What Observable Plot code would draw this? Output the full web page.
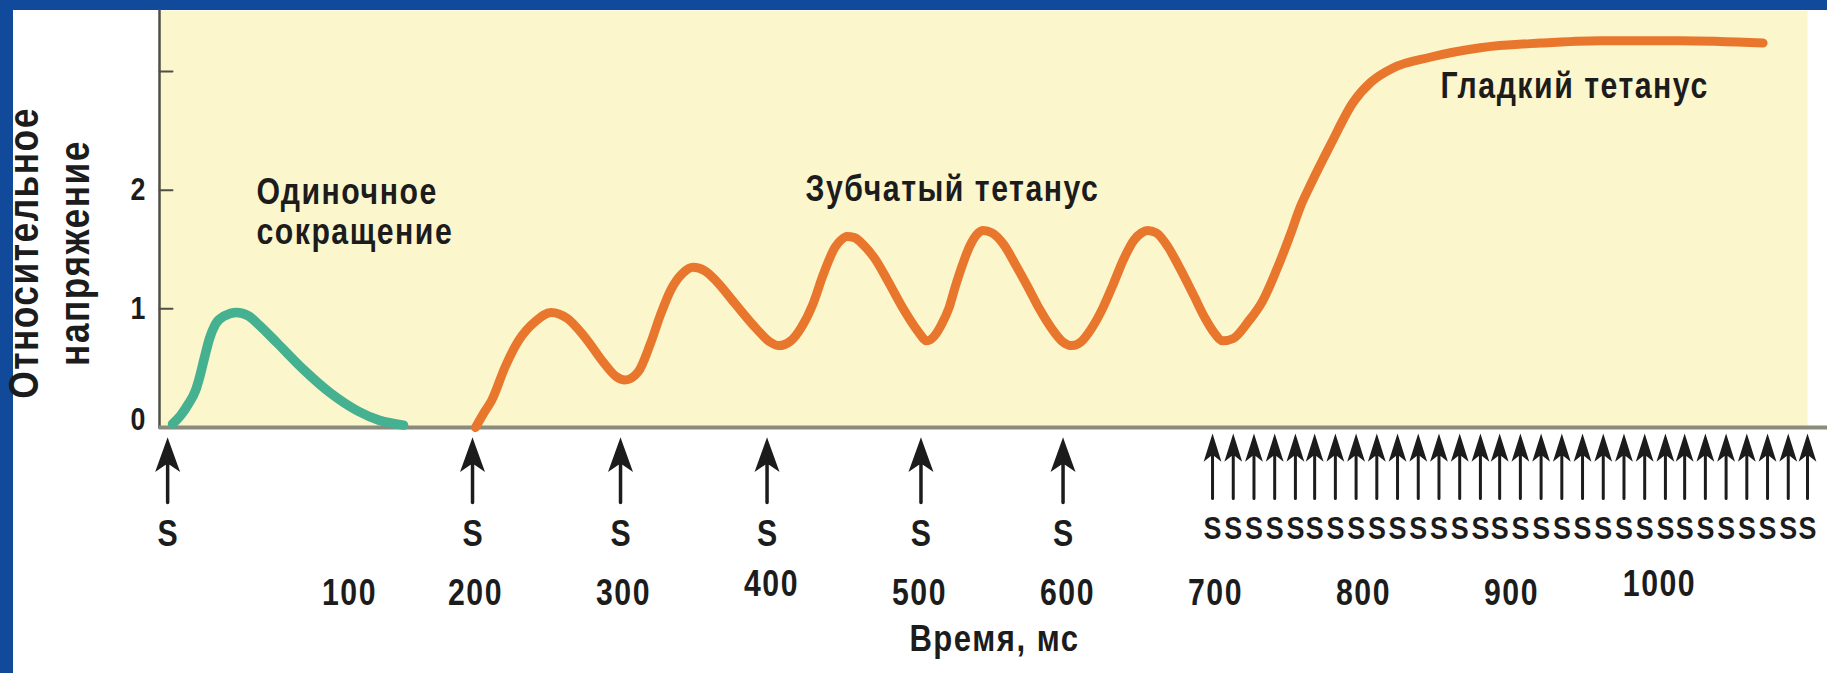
<!DOCTYPE html>
<html>
<head>
<meta charset="utf-8">
<script src="https://cdn.jsdelivr.net/npm/d3@7"></script>
<script src="https://cdn.jsdelivr.net/npm/@observablehq/plot@0.6"></script>
<style>
  html, body { margin: 0; padding: 0; width: 1827px; height: 673px; overflow: hidden; background: #124a9b; }
  #panel { position: absolute; left: 13px; top: 10px; width: 1814px; height: 663px; background: #ffffff; }
  #panel svg text { font-weight: bold; }
</style>
</head>
<body>
<div id="panel"></div>
<script>
// ---- data ----
// single twitch (green)
const twitchTime    = [-4.7, 0.7, 6.1, 10.8, 13.5, 16.9, 20.3, 24.3, 30.4, 38.5, 46.6, 54.1, 66.2, 84.5, 102, 120.3, 135.1, 151.4];
const twitchTension = [0.03, 0.10, 0.20, 0.31, 0.42, 0.59, 0.75, 0.87, 0.94, 0.97, 0.94, 0.86, 0.71, 0.48, 0.29, 0.14, 0.06, 0.02];

// unfused + fused tetanus (orange)
const tetanusTime = [200, 206, 211, 220, 229, 241, 251, 262, 274, 287, 295, 301,
  310, 318, 325, 332, 340, 347, 355, 363, 375, 390, 399, 405,
  413, 420, 428, 435, 443, 447, 451, 456, 462, 470, 478, 490, 499, 505,
  510, 515, 520, 524, 529, 534, 539, 543, 549, 557, 565, 573, 581, 589, 597, 603,
  609, 616, 624, 631, 638, 645, 650, 654, 660, 668, 676, 685, 693, 699, 705,
  712, 722, 732, 741, 751, 757, 764, 778, 793, 805, 820, 845, 879, 920, 960, 1014, 1070];
const tetanusTension = [0, 0.13, 0.23, 0.51, 0.73, 0.90, 0.97, 0.92, 0.76, 0.54, 0.43, 0.40,
  0.47, 0.70, 0.95, 1.16, 1.30, 1.35, 1.32, 1.23, 1.05, 0.83, 0.72, 0.69,
  0.73, 0.84, 1.04, 1.29, 1.52, 1.58, 1.61, 1.60, 1.54, 1.42, 1.25, 0.98, 0.81, 0.73,
  0.77, 0.87, 1.01, 1.18, 1.37, 1.53, 1.63, 1.66, 1.64, 1.54, 1.37, 1.19, 1.00, 0.84, 0.72, 0.69,
  0.72, 0.83, 1.01, 1.21, 1.42, 1.58, 1.64, 1.66, 1.64, 1.52, 1.34, 1.12, 0.92, 0.80, 0.73,
  0.75, 0.89, 1.07, 1.32, 1.64, 1.85, 2.04, 2.39, 2.74, 2.91, 3.03, 3.12, 3.20, 3.24, 3.26, 3.26, 3.24];

// stimuli (arrows "S")
const singleStimuli = [-8, 198, 298, 397, 501, 597];
const fusedStimuli = [698, 712, 726, 740, 754, 767, 781, 795, 809, 823, 837, 851, 865, 879, 892,
  906, 920, 934, 948, 962, 976, 990, 1004, 1017, 1031, 1045, 1059, 1073, 1087, 1100];
const stimulusLabel = "S";

// axes
const xDomain = [-13.5, 1100];
const yDomain = [0, 3.514];
const yTickMarks = [1, 2, 3];
const yTickLabels = [1, 2];
const yTickLabelsRaised = [0];
const xTickLabels = [200, 300, 500, 600, 700, 800, 900];
const xTickLabelsRaised = [400, 1000];
const xTickLabelsShifted = [100];
const xTitle = "Время, мс";
const yTitle = "Относительное\nнапряжение";

// annotations
const annoText = ["Одиночное", "сокращение", "Зубчатый тетанус", "Гладкий тетанус"];
const annoTime = [52, 52, 423, 852];
const annoTension = [1.88, 1.55, 1.91, 2.78];

// ---- build ----
const twitch = twitchTime.map((t, i) => ({t, v: twitchTension[i]}));
const tetanus = tetanusTime.map((t, i) => ({t, v: tetanusTension[i]}));
const annotations = annoText.map((s, i) => ({s, t: annoTime[i], v: annoTension[i]}));

const ink = "#1c1c1c";
const fmt = d => `${d}`;
const arrowShape = (hw, hh) => ({
  draw(ctx, l) {
    ctx.moveTo(0, 0);
    ctx.lineTo(0, -l + hh * 0.6);
    ctx.moveTo(0, -l);
    ctx.lineTo(hw, -l + hh);
    ctx.lineTo(0, -l + hh * 0.75);
    ctx.lineTo(-hw, -l + hh);
    ctx.closePath();
  }
});
const lineShape = { draw(ctx, l) { ctx.moveTo(0, 0); ctx.lineTo(0, -l); } };
const xLabelStyle = {anchor: "bottom", tickSize: 0, fontSize: 36, fontWeight: "bold", tickFormat: fmt, label: null};

const chart = Plot.plot({
  width: 1814,
  height: 663,
  marginLeft: 146,
  marginRight: 20,
  marginTop: 0,
  marginBottom: 246,
  style: {
    background: "transparent",
    color: ink,
    overflow: "visible",
    fontFamily: "'Liberation Sans', Arial, sans-serif"
  },
  x: {domain: xDomain, axis: null},
  y: {domain: yDomain, axis: null},
  marks: [
    Plot.frame({fill: "#fcf6cc", stroke: "none"}),
    Plot.frame({anchor: "left", stroke: "#4f4f47", strokeWidth: 2.5}),
    Plot.vector(yTickMarks, {y: d => d, frameAnchor: "left", length: 13, rotate: 90, anchor: "start",
      shape: lineShape, stroke: "#4f4f47", strokeWidth: 2}),
    Plot.ruleY([0], {stroke: "#8b8b7b", strokeWidth: 4, insetRight: -20}),

    Plot.line(twitch, {x: "t", y: "v", stroke: "#46b190", strokeWidth: 9.5, curve: "monotone-x", strokeLinecap: "round"}),
    Plot.line(tetanus, {x: "t", y: "v", stroke: "#e8762c", strokeWidth: 9, curve: "monotone-x", strokeLinecap: "round"}),

    // y axis labels
    Plot.axisY(yTickLabels, {anchor: "left", tickSize: 0, tickPadding: 14, fontSize: 32, fontWeight: "bold", tickFormat: fmt, label: null}),
    Plot.axisY(yTickLabelsRaised, {anchor: "left", tickSize: 0, tickPadding: 14, dy: -8, fontSize: 32, fontWeight: "bold", tickFormat: fmt, label: null}),
    // x axis labels (placed as in the original figure)
    Plot.axisX(xTickLabels, {...xLabelStyle, tickPadding: 152}),
    Plot.axisX(xTickLabelsRaised, {...xLabelStyle, tickPadding: 143}),
    Plot.axisX(xTickLabelsShifted, {...xLabelStyle, tickPadding: 152, dx: 22}),

    // stimulus arrows
    Plot.vector(singleStimuli, {x: d => d, frameAnchor: "bottom", dy: 75, length: 60, anchor: "start",
      shape: arrowShape(9, 25), stroke: ink, fill: ink, strokeWidth: 3.5, strokeLinejoin: "miter"}),
    Plot.vector(fusedStimuli, {x: d => d, frameAnchor: "bottom", dy: 71, length: 60, anchor: "start",
      shape: arrowShape(6, 19), stroke: ink, fill: ink, strokeWidth: 3, strokeLinejoin: "miter"}),
    Plot.text(singleStimuli, {x: d => d, frameAnchor: "bottom", dy: 107, text: () => stimulusLabel,
      fontSize: 36, fontWeight: "bold", lineAnchor: "middle"}),
    Plot.text(fusedStimuli, {x: d => d, frameAnchor: "bottom", dy: 101, text: () => stimulusLabel,
      fontSize: 32, fontWeight: "bold", lineAnchor: "middle"}),

    // annotations
    Plot.text(annotations, {x: "t", y: "v", text: "s", textAnchor: "start", lineAnchor: "bottom",
      fontSize: 36, fontWeight: "bold"}),

    // axis titles
    Plot.text([xTitle], {frameAnchor: "bottom", dx: 11, dy: 223, lineAnchor: "bottom", fontSize: 37, fontWeight: "bold"}),
    Plot.text([yTitle], {frameAnchor: "left", dx: -112, dy: 34, rotate: -90, textAnchor: "middle",
      lineAnchor: "middle", lineHeight: 1.21, fontSize: 42, fontWeight: "bold"})
  ]
});
document.getElementById("panel").appendChild(chart);

// condensed look: compress every text run horizontally (glyphs stay real text)
const SX = 0.84;
chart.querySelectorAll("text").forEach(t => {
  if (t.textContent.length > 1) t.style.letterSpacing = "1.8px";
});
chart.querySelectorAll("text").forEach(t => {
  const parts = t.querySelectorAll("tspan");
  const els = parts.length ? Array.from(parts) : [t];
  els.forEach(e => {
    const L = e.getComputedTextLength();
    if (L > 0) {
      e.setAttribute("textLength", (L * SX).toFixed(1));
      e.setAttribute("lengthAdjust", "spacingAndGlyphs");
    }
  });
});
</script>
</body>
</html>
